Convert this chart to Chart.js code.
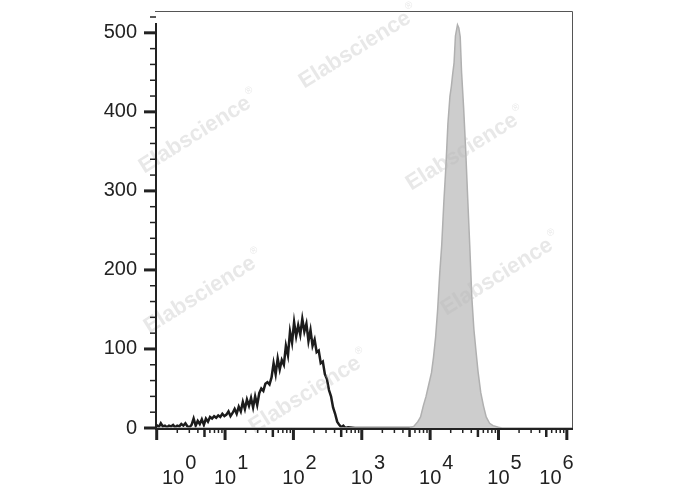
<!DOCTYPE html>
<html>
<head>
<meta charset="utf-8">
<script src="https://cdn.jsdelivr.net/npm/chart.js@4.4.0/dist/chart.umd.min.js"></script>
<style>
  body { margin: 0; background: #fff; }
</style>
</head>
<body>
<canvas id="myChart" width="688" height="490"></canvas>
<script>
  // x values are in decades (log10 of intensity)
  const blackX = [0.00, 0.03, 0.06, 0.09, 0.12, 0.15, 0.18, 0.21, 0.24, 0.27, 0.30, 0.33, 0.36, 0.39, 0.42, 0.45, 0.48, 0.51, 0.54, 0.57,
                  0.60, 0.63, 0.66, 0.69, 0.72, 0.75, 0.78, 0.81, 0.84, 0.87, 0.90, 0.93, 0.96, 0.99, 1.02, 1.05, 1.08, 1.11, 1.14, 1.17,
                  1.20, 1.23, 1.26, 1.29, 1.32, 1.35, 1.38, 1.41, 1.44, 1.47, 1.50, 1.53, 1.56, 1.59, 1.62, 1.65, 1.68, 1.71, 1.74, 1.77,
                  1.80, 1.83, 1.86, 1.89, 1.92, 1.95, 1.98, 2.01, 2.04, 2.07, 2.10, 2.13, 2.16, 2.19, 2.22, 2.25, 2.28, 2.31, 2.34, 2.37,
                  2.40, 2.43, 2.46, 2.49, 2.52, 2.55, 2.58, 2.61, 2.64, 2.67, 2.70, 2.73, 2.76, 2.80, 2.90, 3.80];
  const blackY = [4, 1, 6, 2, 3, 1, 3, 2, 4, 1, 3, 2, 5, 3, 6, 2, 1, 4, 12, 3,
                  9, 5, 11, 4, 12, 8, 14, 12, 15, 13, 16, 14, 18, 15, 17, 21, 15, 19, 24, 18,
                  27, 21, 33, 24, 36, 28, 38, 26, 40, 29, 44, 50, 47, 56, 58, 55, 64, 82, 68, 88,
                  74, 86, 80, 104, 92, 122, 108, 134, 116, 130, 118, 138, 122, 132, 110, 124, 104, 112, 96, 98,
                  82, 84, 68, 62, 48, 40, 26, 18, 8, 4, 1, 3, 0, 1, 0, 0];

  const greyX = [0.00, 3.70, 3.76, 3.82, 3.86, 3.90, 3.94, 3.98, 4.02, 4.05, 4.08, 4.11, 4.14, 4.17, 4.20, 4.23, 4.26, 4.29, 4.31, 4.33,
                 4.35, 4.37, 4.40, 4.42, 4.44, 4.46, 4.49, 4.52, 4.55, 4.58, 4.61, 4.64, 4.67, 4.70, 4.74, 4.78, 4.82, 4.87, 4.92, 5.00,
                 5.05, 6.09];
  const greyY = [0, 0, 2, 8, 14, 28, 40, 55, 70, 90, 115, 150, 195, 232, 285, 330, 385, 420, 432, 448,
                 462, 496, 510, 506, 495, 450, 405, 352, 290, 230, 165, 125, 98, 72, 45, 28, 14, 6, 3, 1,
                 0, 0];

  const xExponents = ["0", "1", "2", "3", "4", "5", "6"];
  const xLabelAt = [0.24, 1, 2, 3, 4, 5, 5.76];
  const yLabels = [0, 100, 200, 300, 400, 500];

  const fontFamily = "'Liberation Sans', Arial, sans-serif";

  const toPoints = (xs, ys) => xs.map((x, i) => ({ x: x, y: ys[i] }));

  // axes, ticks, superscript labels and watermark
  const axisPlugin = {
    id: "axisPlugin",
    afterDraw(chart) {
      const ctx = chart.ctx;
      const area = chart.chartArea;
      const xs = chart.scales.x;
      const ys = chart.scales.y;
      ctx.save();

      // watermark
      const marks = [[355, 50], [195, 135], [462, 152], [497, 277], [200, 295], [305, 395]];
      marks.forEach(function (m) {
        ctx.save();
        ctx.translate(m[0], m[1]);
        ctx.rotate(-32 * Math.PI / 180);
        ctx.fillStyle = "rgba(185,185,185,0.33)";
        ctx.font = "bold 22px " + fontFamily;
        ctx.textAlign = "center";
        ctx.textBaseline = "middle";
        ctx.fillText("Elabscience", 0, 0);
        const w = ctx.measureText("Elabscience").width;
        ctx.font = "10px " + fontFamily;
        ctx.textAlign = "left";
        ctx.fillText("\u00AE", w / 2 + 2, -9);
        ctx.restore();
      });

      // box
      ctx.strokeStyle = "#555";
      ctx.lineWidth = 1;
      ctx.beginPath();
      ctx.moveTo(area.left, area.top + 0.5);
      ctx.lineTo(area.right - 0.5, area.top + 0.5);
      ctx.lineTo(area.right - 0.5, area.bottom);
      ctx.stroke();

      ctx.strokeStyle = "#222";
      ctx.lineWidth = 2;
      ctx.beginPath();
      ctx.moveTo(area.left, area.bottom + 1);
      ctx.lineTo(area.right, area.bottom + 1);
      ctx.moveTo(area.left + 1, area.bottom + 1);
      ctx.lineTo(area.left + 1, area.top + 12);
      ctx.stroke();

      // x ticks
      ctx.strokeStyle = "#222";
      for (let d = 0; d <= 6; d++) {
        const px = xs.getPixelForValue(d);
        ctx.lineWidth = 3;
        ctx.beginPath();
        ctx.moveTo(px, area.bottom);
        ctx.lineTo(px, area.bottom + 12);
        ctx.stroke();
        if (d < 6) {
          for (let k = 2; k <= 9; k++) {
            const mx = xs.getPixelForValue(d + Math.log10(k));
            ctx.lineWidth = k == 5 ? 2.5 : 1.5;
            ctx.beginPath();
            ctx.moveTo(mx, area.bottom);
            ctx.lineTo(mx, area.bottom + (k == 5 ? 9 : 5));
            ctx.stroke();
          }
        }
      }

      // y ticks
      for (let v = 0; v <= 520; v += 20) {
        const py = ys.getPixelForValue(v);
        const major = v % 100 == 0;
        ctx.lineWidth = major ? 3 : 1.5;
        ctx.beginPath();
        ctx.moveTo(area.left + 1, py);
        ctx.lineTo(area.left - (major ? 11 : 5), py);
        ctx.stroke();
      }

      // x labels: 10 with superscript exponent
      ctx.fillStyle = "#222";
      ctx.font = "20px " + fontFamily;
      ctx.textBaseline = "alphabetic";
      xLabelAt.forEach(function (val, i) {
        const px = xs.getPixelForValue(val);
        ctx.textAlign = "center";
        ctx.fillText("10", px, 484);
        const w = ctx.measureText("10").width;
        ctx.textAlign = "left";
        ctx.fillText(xExponents[i], px + w / 2 + 1, 469);
      });

      ctx.restore();
    }
  };

  const data = {
    datasets: [{
      label: "Stained",
      data: toPoints(greyX, greyY),
      borderColor: "#b0b0b0",
      backgroundColor: "#cdcdcd",
      borderWidth: 1.5,
      fill: "origin",
      pointRadius: 0,
      tension: 0
    }, {
      label: "Control",
      data: toPoints(blackX, blackY),
      borderColor: "#1c1c1c",
      borderWidth: 2.5,
      fill: false,
      pointRadius: 0,
      tension: 0
    }]
  };

  const config = {
    type: "line",
    data: data,
    options: {
      responsive: false,
      animation: false,
      layout: {
        padding: { left: 0, right: 115, top: 11, bottom: 0 }
      },
      plugins: {
        legend: { display: false },
        tooltip: { enabled: false }
      },
      scales: {
        x: {
          type: "linear",
          min: -0.025,
          max: 6.09,
          grid: { display: false },
          border: { display: false },
          ticks: { display: false },
          afterFit: function (scale) {
            scale.height = 62;
            scale.paddingLeft = 0;
            scale.paddingRight = 0;
          }
        },
        y: {
          min: 0,
          max: 527.6,
          grid: { display: false, drawTicks: false },
          border: { display: false },
          afterBuildTicks: function (scale) {
            scale.ticks = yLabels.map(v => ({ value: v }));
          },
          ticks: {
            padding: 18,
            color: "#222",
            font: { size: 20, family: fontFamily },
            callback: function (value) { return value; }
          },
          afterFit: function (scale) {
            scale.width = 155;
            scale.paddingTop = 0;
            scale.paddingBottom = 0;
          }
        }
      }
    },
    plugins: [axisPlugin]
  };

  var myChart = new Chart(
    document.getElementById("myChart"),
    config
  );
</script>
</body>
</html>
